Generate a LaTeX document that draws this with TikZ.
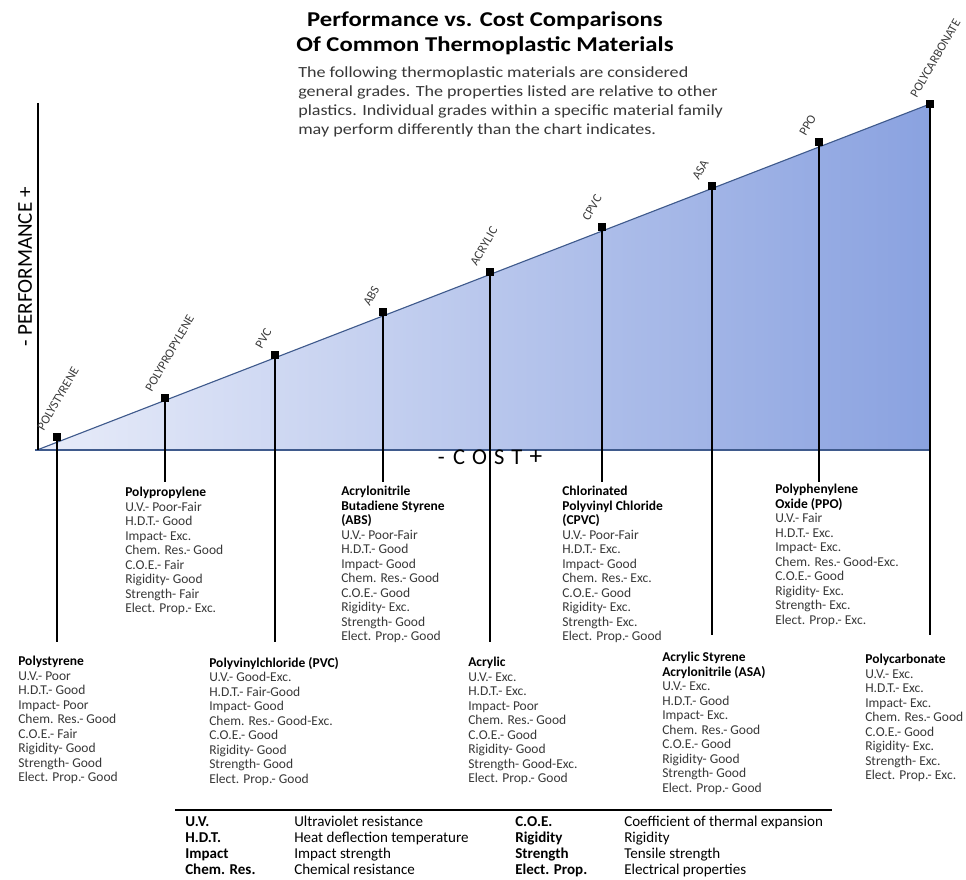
\documentclass[tikz,border=0pt]{standalone}
\usepackage{fontspec}
\setmainfont{Carlito}
\newfontfamily\widefont{Carlito}[FakeStretch=1.17]
\usetikzlibrary{calc}
\definecolor{edgeblue}{HTML}{3F5A8C}
\definecolor{shadelight}{HTML}{E8ECF9}
\definecolor{shadedark}{HTML}{8AA2E0}
\definecolor{labelgrey}{HTML}{3C3C3C}
\definecolor{textgrey}{HTML}{383838}
\begin{document}
\begin{tikzpicture}[x=0.025cm,y=-0.025cm,
        marker/.style={rectangle,fill=black,inner sep=0pt,minimum size=5.5pt},
        drop/.style={line width=1.4pt},
        mlabel/.style={rotate=60,anchor=south west,inner sep=0pt,
            font=\fontsize{9}{9}\selectfont,text=labelgrey},
        block/.style={anchor=north west,align=left,inner sep=0pt,
            font=\fontsize{9.6}{10.3}\selectfont,text=textgrey},
        legend/.style={anchor=north west,align=left,inner sep=0pt,
            font=\fontsize{10.7}{11.4}\selectfont,text=black}]
    \useasboundingbox (0,0) rectangle (966,880);

    % title and note
    \node[font=\widefont\fontsize{15}{17.8}\selectfont\bfseries,align=center] (title) at (485,33)
        {Performance vs. Cost Comparisons\\Of Common Thermoplastic Materials};
    \node[anchor=north west,align=left,inner sep=0pt,font=\widefont\fontsize{11}{13.6}\selectfont,text=textgrey] (note) at (298,66)
        {The following thermoplastic materials are considered\\
         general grades. The properties listed are relative to other\\
         plastics. Individual grades within a specific material family\\
         may perform differently than the chart indicates.};

    % chart
    \coordinate (o) at (37,450);
    \coordinate (top) at (930,104);
    \coordinate (corner) at (930,450);
    \shade[left color=shadelight,right color=shadedark] (o) -- (top) -- (corner) -- cycle;
    \draw[edgeblue,line width=0.8pt] (o) -- (top);
    \draw[edgeblue,line width=0.8pt] (35,450) -- (corner);
    \draw[line width=2pt] (38,103) -- (38,450);

    \node[rotate=90,font=\fontsize{15}{15}\selectfont] (perf) at (25,267) {- PERFORMANCE +};
    \node[font=\fontsize{16}{16}\selectfont] (cost) at (490,457)
        {-\hspace{6pt}C\hspace{5pt}O\hspace{5pt}S\hspace{5pt}T\hspace{5pt}{\fontsize{18}{18}\selectfont+}};

    % markers on the line
    \node[marker] (ps) at (57,437) {};
    \node[marker] (pp) at (165,398) {};
    \node[marker] (pvc) at (275,355) {};
    \node[marker] (abs) at (383,312) {};
    \node[marker] (acr) at (490,272) {};
    \node[marker] (cpvc) at (602,227) {};
    \node[marker] (asa) at (712,186) {};
    \node[marker] (ppo) at (819,142) {};
    \node[marker] (pc) at (930,104) {};

    \node[mlabel] at ($(ps)+(-13,-5)$) {POLYSTYRENE};
    \node[mlabel] at ($(pp)+(-13,-5)$) {POLYPROPYLENE};
    \node[mlabel] at ($(pvc)+(-13,-5)$) {PVC};
    \node[mlabel] at ($(abs)+(-13,-5)$) {ABS};
    \node[mlabel] at ($(acr)+(-13,-5)$) {ACRYLIC};
    \node[mlabel] at ($(cpvc)+(-13,-5)$) {CPVC};
    \node[mlabel] at ($(asa)+(-13,-5)$) {ASA};
    \node[mlabel] at ($(ppo)+(-13,-5)$) {PPO};
    \node[mlabel] at ($(pc)+(-13,-5)$) {POLYCARBONATE};

    % drop lines
    \coordinate (ps-end) at (57,642);
    \coordinate (pp-end) at (165,482);
    \coordinate (pvc-end) at (275,642);
    \coordinate (abs-end) at (383,482);
    \coordinate (acr-end) at (490,642);
    \coordinate (cpvc-end) at (602,482);
    \coordinate (asa-end) at (712,635);
    \coordinate (ppo-end) at (819,482);
    \coordinate (pc-end) at (930,635);
    \foreach \m in {ps,pp,pvc,abs,acr,cpvc,asa,ppo,pc}
        \draw[drop] (\m.center) -- (\m-end);

    % property blocks
    \node[block] (ps-txt) at (18,656) {\textbf{\color{black}Polystyrene}\\
        U.V.- Poor\\H.D.T.- Good\\Impact- Poor\\Chem. Res.- Good\\
        C.O.E.- Fair\\Rigidity- Good\\Strength- Good\\Elect. Prop.- Good};
    \node[block] (pp-txt) at (125,487) {\textbf{\color{black}Polypropylene}\\
        U.V.- Poor-Fair\\H.D.T.- Good\\Impact- Exc.\\Chem. Res.- Good\\
        C.O.E.- Fair\\Rigidity- Good\\Strength- Fair\\Elect. Prop.- Exc.};
    \node[block] (pvc-txt) at (209,657) {\textbf{\color{black}Polyvinylchloride (PVC)}\\
        U.V.- Good-Exc.\\H.D.T.- Fair-Good\\Impact- Good\\Chem. Res.- Good-Exc.\\
        C.O.E.- Good\\Rigidity- Good\\Strength- Good\\Elect. Prop.- Good};
    \node[block] (abs-txt) at (341,486) {\textbf{\color{black}Acrylonitrile}\\
        \textbf{\color{black}Butadiene Styrene}\\\textbf{\color{black}(ABS)}\\
        U.V.- Poor-Fair\\H.D.T.- Good\\Impact- Good\\Chem. Res.- Good\\
        C.O.E.- Good\\Rigidity- Exc.\\Strength- Good\\Elect. Prop.- Good};
    \node[block] (acr-txt) at (468,657) {\textbf{\color{black}Acrylic}\\
        U.V.- Exc.\\H.D.T.- Exc.\\Impact- Poor\\Chem. Res.- Good\\
        C.O.E.- Good\\Rigidity- Good\\Strength- Good-Exc.\\Elect. Prop.- Good};
    \node[block] (cpvc-txt) at (562,486) {\textbf{\color{black}Chlorinated}\\
        \textbf{\color{black}Polyvinyl Chloride}\\\textbf{\color{black}(CPVC)}\\
        U.V.- Poor-Fair\\H.D.T.- Exc.\\Impact- Good\\Chem. Res.- Exc.\\
        C.O.E.- Good\\Rigidity- Exc.\\Strength- Exc.\\Elect. Prop.- Good};
    \node[block] (asa-txt) at (662,652) {\textbf{\color{black}Acrylic Styrene}\\
        \textbf{\color{black}Acrylonitrile (ASA)}\\
        U.V.- Exc.\\H.D.T.- Good\\Impact- Exc.\\Chem. Res.- Good\\
        C.O.E.- Good\\Rigidity- Good\\Strength- Good\\Elect. Prop.- Good};
    \node[block] (ppo-txt) at (775,484) {\textbf{\color{black}Polyphenylene}\\
        \textbf{\color{black}Oxide (PPO)}\\
        U.V.- Fair\\H.D.T.- Exc.\\Impact- Exc.\\Chem. Res.- Good-Exc.\\
        C.O.E.- Good\\Rigidity- Exc.\\Strength- Exc.\\Elect. Prop.- Exc.};
    \node[block] (pc-txt) at (865,654) {\textbf{\color{black}Polycarbonate}\\
        U.V.- Exc.\\H.D.T.- Exc.\\Impact- Exc.\\Chem. Res.- Good\\
        C.O.E.- Good\\Rigidity- Exc.\\Strength- Exc.\\Elect. Prop.- Exc.};

    % legend
    \coordinate (rule-l) at (175,810);
    \coordinate (rule-r) at (832,810);
    \draw[line width=1.6pt] (rule-l) -- (rule-r);
    \node[legend,font=\fontsize{10.7}{11.4}\selectfont\bfseries] (abbr1) at (185,816)
        {U.V.\\H.D.T.\\Impact\\Chem. Res.};
    \node[legend] (desc1) at (294,816)
        {Ultraviolet resistance\\Heat deflection temperature\\Impact strength\\Chemical resistance};
    \node[legend,font=\fontsize{10.7}{11.4}\selectfont\bfseries] (abbr2) at (515,816)
        {C.O.E.\\Rigidity\\Strength\\Elect. Prop.};
    \node[legend] (desc2) at (624,816)
        {Coefficient of thermal expansion\\Rigidity\\Tensile strength\\Electrical properties};
\end{tikzpicture}
\end{document}
